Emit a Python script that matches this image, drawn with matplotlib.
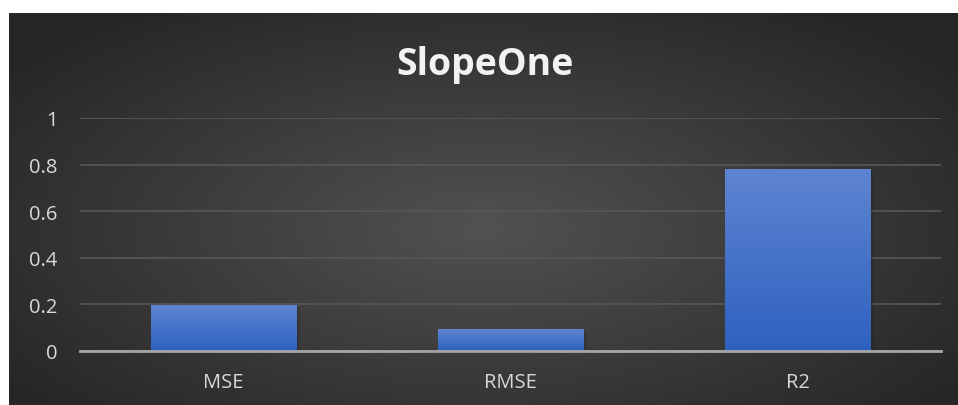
import numpy as np
import matplotlib.pyplot as plt
from matplotlib.patches import Rectangle

metrics = ['MSE', 'RMSE', 'R2']
scores = [0.197, 0.094, 0.781]
y_ticks = [0, 0.2, 0.4, 0.6, 0.8, 1]
y_labels = ['0', '0.2', '0.4', '0.6', '0.8', '1']

plt.rcParams['font.family'] = ['Open Sans', 'DejaVu Sans']

fig = plt.figure(figsize=(9.58, 4.06), dpi=100)
fig.patch.set_facecolor('white')

# dark panel with a soft radial glow in the middle
bg = fig.add_axes([9 / 958, 0, 949 / 958, 392 / 406], zorder=0)
yy, xx = np.mgrid[-1:1:300j, -1:1:700j]
r = np.sqrt((xx / 1.0) ** 2 + ((yy - 0.1) / 1.1) ** 2)
glow = np.clip(1 - r / 1.25, 0, 1)
shade = 0.15 + 0.17 * glow
bg.imshow(np.dstack([shade, shade, shade]), aspect='auto', extent=[0, 1, 0, 1])
bg.set_axis_off()

ax = fig.add_axes([80 / 958, 54 / 406, 861 / 958, 233 / 406], zorder=1)
ax.patch.set_alpha(0)
x = np.arange(len(metrics))
bars = ax.bar(x, scores, width=0.506, color='none', zorder=3)

# vertical blue gradient inside each bar
grad = np.linspace(0, 1, 256).reshape(-1, 1)
top = np.array([0.37, 0.52, 0.82])
bot = np.array([0.18, 0.38, 0.75])
cols = bot + (top - bot) * grad
for b in bars:
    x0, w, h = b.get_x(), b.get_width(), b.get_height()
    for k in range(1, 4):
        ax.add_patch(Rectangle((x0 + 0.004 * k, -0.01), w, h, color='black',
                               alpha=0.08, zorder=2, lw=0))
    im = ax.imshow(cols[:, None, :].repeat(2, axis=1), extent=[x0, x0 + w, 0, h],
                   origin='lower', aspect='auto', zorder=3)
    im.set_clip_path(b)

ax.set_xlim(-0.5, 2.5)
ax.set_ylim(0, 1)
ax.set_yticks(y_ticks, y_labels)
ax.set_xticks(x, metrics)
ax.grid(axis='y', color='#555555', lw=1.3, zorder=1)
for s in ['top', 'right', 'left']:
    ax.spines[s].set_visible(False)
ax.spines['bottom'].set_color('#a6a6a6')
ax.spines['bottom'].set_linewidth(2)
ax.spines['bottom'].set_zorder(4)
ax.tick_params(length=0, colors='#d9d9d9', labelsize=14.5)
ax.tick_params(axis='y', pad=16)
ax.tick_params(axis='x', pad=15)

fig.text(0.506, 1 - 75 / 406, 'SlopeOne', ha='center', va='baseline', color='#f2f2f2',
         fontsize=27, fontweight='bold')

fig.savefig('out.png', dpi=100)
